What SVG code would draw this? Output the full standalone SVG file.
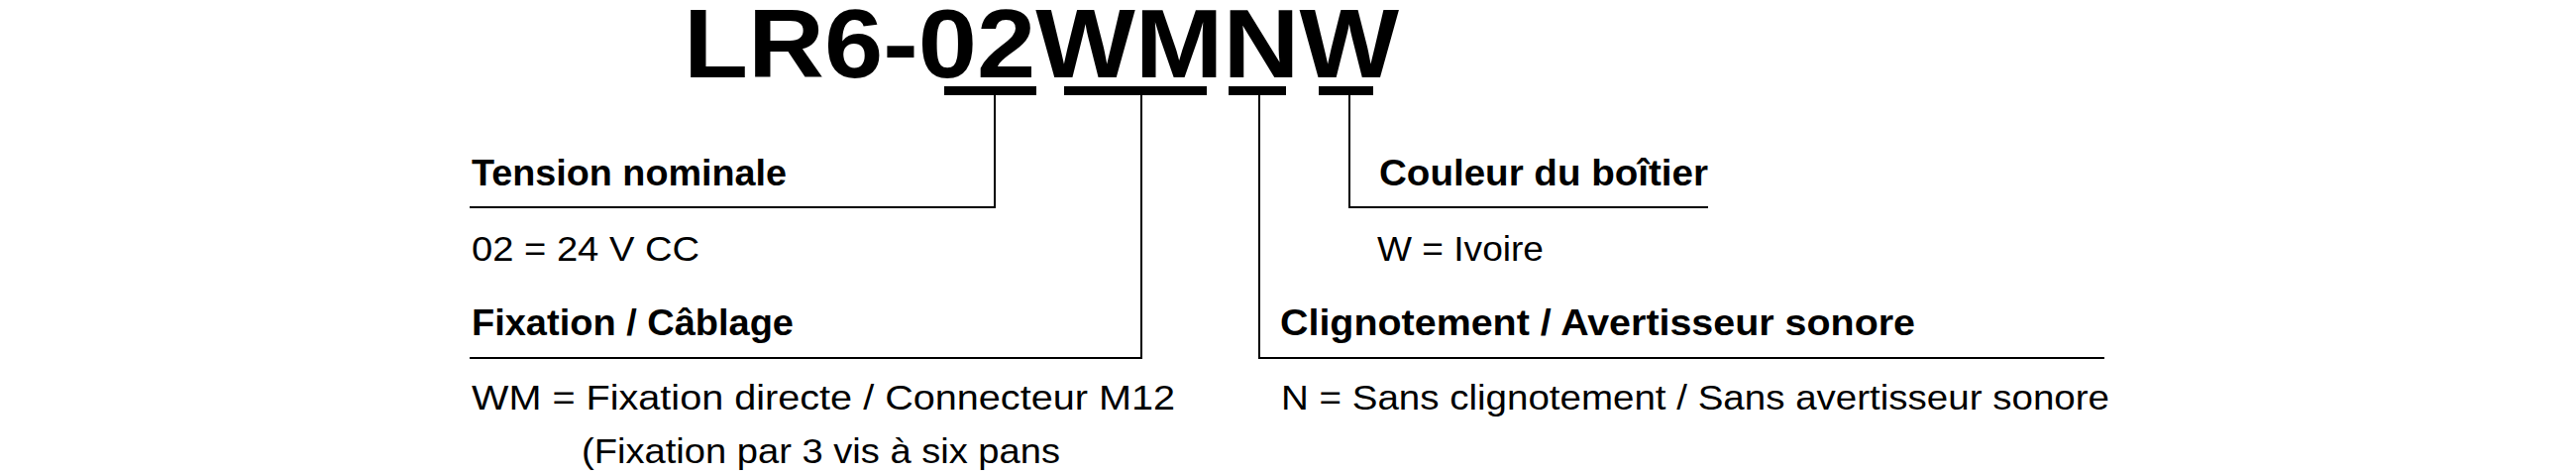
<svg xmlns="http://www.w3.org/2000/svg" width="2600" height="480" viewBox="0 0 2600 480">
<style>
text{font-family:"Liberation Sans",Arial,sans-serif;fill:#000}
.h{font-weight:bold;font-size:36px}
.b{font-size:35px}
.ln{stroke:#000;stroke-width:2;fill:none}
.bar{fill:#000}
</style>
<rect width="2600" height="480" fill="#fff"/>
<g id="title">
<text x="690" y="78" font-size="98" font-weight="bold" textLength="722" lengthAdjust="spacingAndGlyphs">LR6-02WMNW</text>
<rect class="bar" x="953" y="87" width="93" height="9"/>
<rect class="bar" x="1074" y="87" width="144" height="9"/>
<rect class="bar" x="1240" y="87" width="58" height="9"/>
<rect class="bar" x="1331" y="87" width="55" height="9"/>
</g>
<g id="connectors">
<polyline class="ln" points="1004,96 1004,209 474,209"/>
<polyline class="ln" points="1152,96 1152,361 474,361"/>
<polyline class="ln" points="1271,96 1271,361 2124,361"/>
<polyline class="ln" points="1362,96 1362,209 1724,209"/>
</g>
<g id="tension">
<text class="h" x="476" y="187" textLength="318" lengthAdjust="spacingAndGlyphs">Tension nominale</text>
<text class="b" x="476" y="263" textLength="230" lengthAdjust="spacingAndGlyphs">02 = 24 V CC</text>
</g>
<g id="fixation">
<text class="h" x="476" y="338" textLength="325" lengthAdjust="spacingAndGlyphs">Fixation / Câblage</text>
<text class="b" x="476" y="413" textLength="710" lengthAdjust="spacingAndGlyphs">WM = Fixation directe / Connecteur M12</text>
<text class="b" x="587" y="467" textLength="483" lengthAdjust="spacingAndGlyphs">(Fixation par 3 vis à six pans</text>
</g>
<g id="couleur">
<text class="h" x="1392" y="187" textLength="332" lengthAdjust="spacingAndGlyphs">Couleur du boîtier</text>
<text class="b" x="1390" y="263" textLength="168" lengthAdjust="spacingAndGlyphs">W = Ivoire</text>
</g>
<g id="clignotement">
<text class="h" x="1292" y="338" textLength="641" lengthAdjust="spacingAndGlyphs">Clignotement / Avertisseur sonore</text>
<text class="b" x="1293" y="413" textLength="836" lengthAdjust="spacingAndGlyphs">N = Sans clignotement / Sans avertisseur sonore</text>
</g>
</svg>
